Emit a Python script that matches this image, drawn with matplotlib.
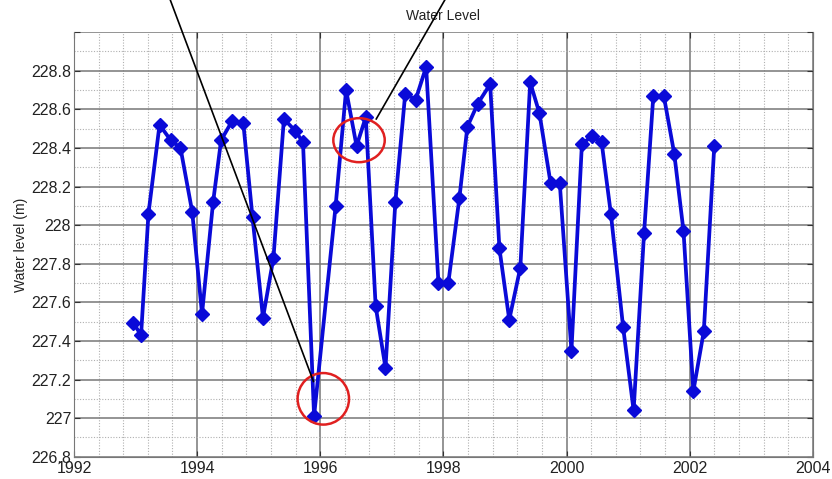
import matplotlib
matplotlib.use('Agg')
import matplotlib.pyplot as plt
from matplotlib.patches import Ellipse
from matplotlib.ticker import MultipleLocator, FormatStrFormatter, FuncFormatter

# decimal years and water levels
years = [1992.96, 1993.09, 1993.21, 1993.39, 1993.57, 1993.73, 1993.92,
         1994.08, 1994.26, 1994.39, 1994.57, 1994.75, 1994.90,
         1995.07, 1995.24, 1995.41, 1995.59, 1995.72, 1995.90,
         1996.25, 1996.42, 1996.59, 1996.74, 1996.90,
         1997.06, 1997.22, 1997.38, 1997.55, 1997.72, 1997.92,
         1998.08, 1998.26, 1998.39, 1998.56, 1998.76, 1998.91,
         1999.07, 1999.25, 1999.41, 1999.56, 1999.74, 1999.89,
         2000.08, 2000.25, 2000.41, 2000.57, 2000.72, 2000.92,
         2001.09, 2001.26, 2001.41, 2001.58, 2001.75, 2001.90,
         2002.06, 2002.23, 2002.40]
levels = [227.495, 227.43, 228.06, 228.52, 228.44, 228.40, 228.07,
          227.54, 228.12, 228.44, 228.54, 228.53, 228.04,
          227.52, 227.83, 228.55, 228.49, 228.43, 227.01,
          228.10, 228.70, 228.41, 228.56, 227.58,
          227.26, 228.12, 228.68, 228.65, 228.82, 227.70,
          227.70, 228.14, 228.51, 228.63, 228.73, 227.88,
          227.51, 227.78, 228.74, 228.58, 228.22, 228.22,
          227.35, 228.42, 228.46, 228.43, 228.06, 227.47,
          227.04, 227.96, 228.67, 228.67, 228.37, 227.97,
          227.14, 227.45, 228.41]

# red circles (center year, center level, width, height) and pointer lines
circles = [(1996.05, 227.10, 0.835, 0.267), (1996.63, 228.44, 0.835, 0.228)]
pointers = [((1993.56, 229.17), (1995.89, 227.19)),
            ((1998.03, 229.17), (1996.91, 228.55))]

plt.rcParams['font.family'] = ['Liberation Sans', 'DejaVu Sans']

fig = plt.figure(figsize=(8.32, 4.79), dpi=100)
ax = fig.add_axes([0.0889, 0.0465, 0.888, 0.8865])

ax.plot(years, levels, color='#0a0ad8', linewidth=2.7, marker='D',
        markersize=7, markerfacecolor='#0a0ad8', markeredgecolor='#0a0ad8', zorder=3)

ax.set_xlim(1992, 2004)
ax.set_ylim(226.8, 229.0)
ax.xaxis.set_major_locator(MultipleLocator(2))
ax.xaxis.set_minor_locator(MultipleLocator(0.4))
ax.yaxis.set_major_locator(MultipleLocator(0.2))
ax.yaxis.set_minor_locator(MultipleLocator(0.1))
ax.xaxis.set_major_formatter(FormatStrFormatter('%d'))
ax.yaxis.set_major_formatter(FuncFormatter(lambda v, p: '%g' % round(v, 1) if v < 228.95 else ''))

ax.grid(which='major', color='#777777', linewidth=1.1, linestyle='-')
ax.grid(which='minor', color='#b0b0b0', linewidth=0.8, linestyle=(0, (1, 1.5)))
ax.set_axisbelow(True)

ax.tick_params(which='major', direction='in', length=4, top=True, right=True,
               labelsize=11.5, pad=2, colors='#333333', labelcolor='#222222')
ax.tick_params(axis='x', which='major', pad=3)
ax.tick_params(which='minor', length=0)
for s in ax.spines.values():
    s.set_color('#777777')
ax.spines['top'].set_visible(False)

ax.set_ylabel('Water level (m)', fontsize=10, labelpad=2, color='#222222')
ax.set_title('Water Level', fontsize=10, pad=9, color='#222222')

for cx, cy, w, h in circles:
    ax.add_patch(Ellipse((cx, cy), w, h, fill=False, edgecolor='#e02020',
                         linewidth=1.8, zorder=4, clip_on=False))
for (x0, y0), (x1, y1) in pointers:
    ax.plot([x0, x1], [y0, y1], color='black', linewidth=1.2, zorder=5, clip_on=False)

fig.savefig('out.png', dpi=100)
